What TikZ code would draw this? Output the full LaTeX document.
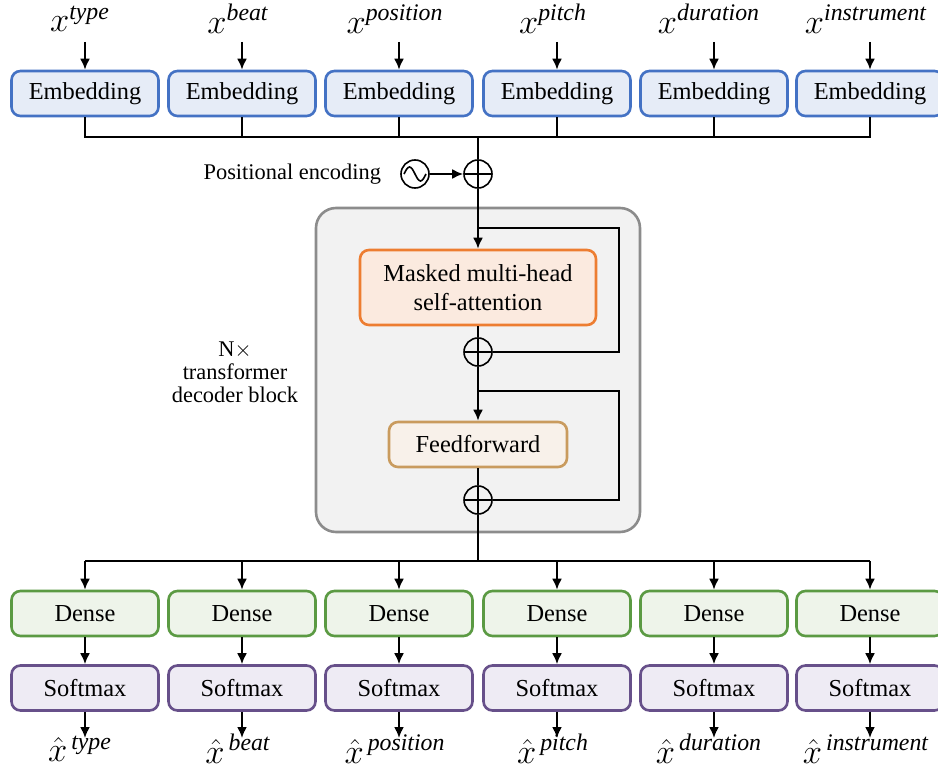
\documentclass[tikz,border=0pt]{standalone}
\usepackage{fontspec}
\setmainfont{Liberation Serif}
\usetikzlibrary{positioning,arrows.meta}

\definecolor{embline}{HTML}{4472C4}
\definecolor{embfill}{HTML}{E6ECF7}
\definecolor{attline}{HTML}{ED7D31}
\definecolor{attfill}{HTML}{FBEADF}
\definecolor{ffline}{HTML}{C99B5E}
\definecolor{fffill}{HTML}{F8F1EA}
\definecolor{denseline}{HTML}{5B9A43}
\definecolor{densefill}{HTML}{EEF4EA}
\definecolor{smline}{HTML}{67508A}
\definecolor{smfill}{HTML}{EEEBF4}
\definecolor{blkline}{HTML}{8C8C8C}
\definecolor{blkfill}{HTML}{F2F2F2}

\tikzset{
  box/.style={draw, rounded corners=4.5pt, line width=1.3pt, minimum width=73.5pt,
              minimum height=22.5pt, inner sep=0pt, align=center},
  embbox/.style={box, draw=embline, fill=embfill},
  densebox/.style={box, draw=denseline, fill=densefill},
  smbox/.style={box, draw=smline, fill=smfill},
  wire/.style={line width=1pt},
  arr/.style={line width=1pt, -{Latex[length=5.5pt,width=5pt]}},
  addop/.style={circle, draw, line width=0.8pt, minimum size=14pt, inner sep=0pt,
                path picture={\draw[line width=0.8pt]
                  (path picture bounding box.north) -- (path picture bounding box.south)
                  (path picture bounding box.west) -- (path picture bounding box.east);}},
  sineop/.style={circle, draw, line width=0.8pt, minimum size=14pt, inner sep=0pt,
                path picture={\draw[line width=0.8pt]
                  ([xshift=-5.5pt]path picture bounding box.center)
                  sin ++(2.75pt,3.5pt) cos ++(2.75pt,-3.5pt)
                  sin ++(2.75pt,-3.5pt) cos ++(2.75pt,3.5pt);}},
  lbl/.style={font=\fontsize{17}{19}\selectfont, inner sep=0pt}
}

\begin{document}
\begin{tikzpicture}[x=0.5pt, y=-0.5pt, font=\fontsize{12.2}{14.5}\selectfont]
  \useasboundingbox (0,0) rectangle (938,770);

  % transformer block background
  \node[draw=blkline, fill=blkfill, line width=1.3pt, rounded corners=10pt,
        minimum width=162pt, minimum height=162pt] (blk) at (478,370) {};
  \node[align=center, font=\fontsize{11.2}{11.5}\selectfont] (blklabel) at (235,372)
        {N$\times$\\transformer\\decoder block};

  % inputs and embeddings
  \foreach \i/\x/\t in {1/80/type, 2/238/beat, 3/395/position, 4/553/pitch,
                        5/709/duration, 6/866/instrument} {
    \node[lbl] (xin\i) at (\x,19) {$x^{\mathit{\t}}$};
  }
  \foreach \i/\x in {1/85, 2/242, 3/399, 4/557, 5/714, 6/870} {
    \node[embbox] (emb\i) at (\x,93.5) {Embedding};
    \coordinate (in\i) at (\x,42);
    \draw[arr] (in\i) -- (emb\i.north);
  }

  % merge and positional encoding
  \coordinate (jt) at (478,137);
  \draw[wire] (emb1.south) |- (jt) -| (emb6.south);
  \foreach \i in {2,3,4,5} {
    \draw[wire] (emb\i.south) -- (emb\i.south |- jt);
  }
  \node[addop] (pe) at (478,174) {};
  \node[sineop] (sn) at (415,174) {};
  \node[anchor=east, font=\fontsize{11.2}{13}\selectfont] (pelabel) at (388,174) {Positional encoding};
  \draw[wire] (jt) -- (pe.north);
  \draw[arr] (sn.east) -- (pe.west);

  % attention sub-layer
  \node[box, draw=attline, fill=attfill, minimum width=118pt, minimum height=37.5pt]
        (mha) at (478,287.5) {Masked multi-head\\self-attention};
  \node[addop] (add1) at (478,352) {};
  \coordinate (r1) at (478,228);
  \coordinate (r1e) at (619,228);
  \draw[arr] (pe.south) -- (mha.north);
  \draw[wire] (mha.south) -- (add1.north);
  \draw[wire] (r1) -- (r1e) |- (add1.east);

  % feedforward sub-layer
  \node[box, draw=ffline, fill=fffill, minimum width=89pt] (ff) at (478,444.5) {Feedforward};
  \node[addop] (add2) at (478,500) {};
  \coordinate (r2) at (478,391);
  \coordinate (r2e) at (619,391);
  \draw[arr] (add1.south) -- (ff.north);
  \draw[wire] (ff.south) -- (add2.north);
  \draw[wire] (r2) -- (r2e) |- (add2.east);

  % output heads
  \coordinate (jb) at (478,561);
  \draw[wire] (add2.south) -- (jb);
  \foreach \i/\x in {1/85, 2/242, 3/399, 4/557, 5/714, 6/870} {
    \node[densebox] (dn\i) at (\x,613.5) {Dense};
    \node[smbox] (sm\i) at (\x,688) {Softmax};
    \coordinate (out\i) at (\x,738);
    \draw[arr] (dn\i.north |- jb) -- (dn\i.north);
    \draw[arr] (dn\i.south) -- (sm\i.north);
    \draw[arr] (sm\i.south) -- (out\i);
  }
  \draw[wire] (dn1.north |- jb) -- (dn6.north |- jb);
  \foreach \i/\x/\t in {1/80/type, 2/238/beat, 3/395/position, 4/553/pitch,
                        5/709/duration, 6/866/instrument} {
    \node[lbl] (xout\i) at (\x,749) {$\hat{x}^{\,\mathit{\t}}$};
  }
\end{tikzpicture}
\end{document}
